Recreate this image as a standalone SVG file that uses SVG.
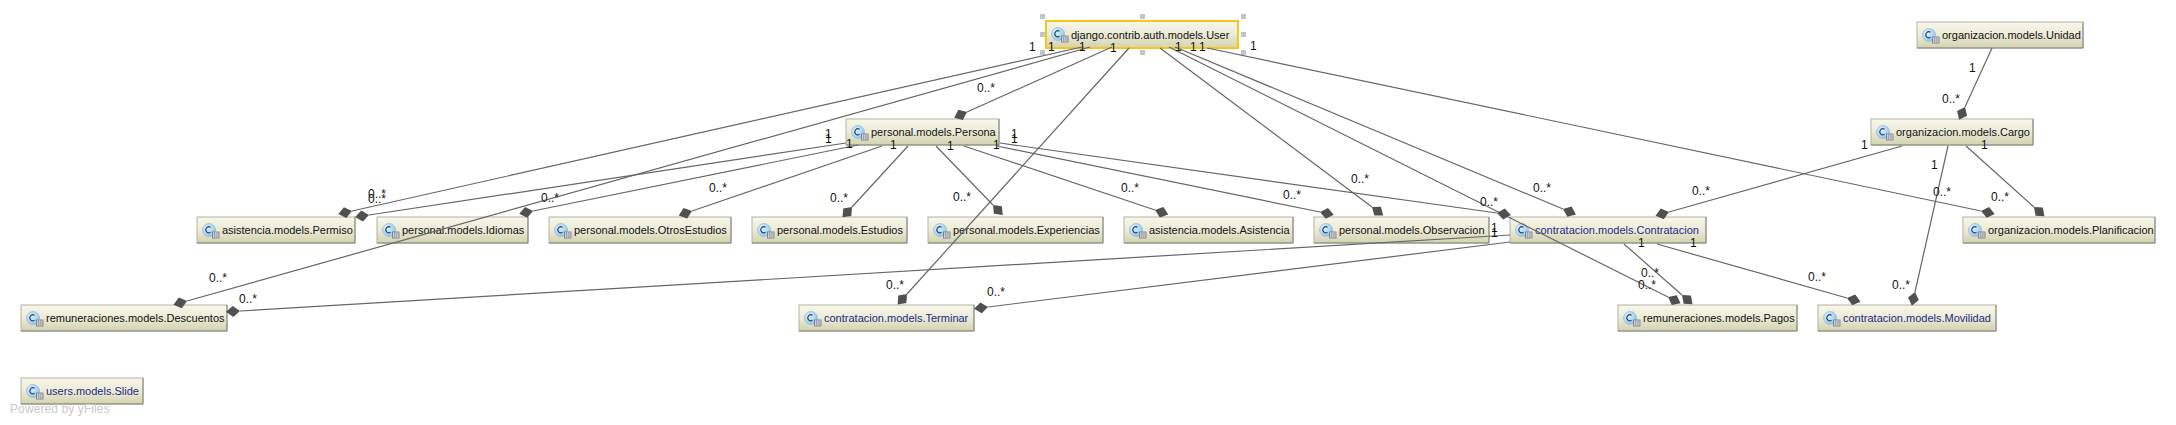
<svg xmlns="http://www.w3.org/2000/svg" width="2176" height="425" viewBox="0 0 2176 425">
<style>
text{font-family:"Liberation Sans",Arial,sans-serif;font-size:12px;fill:#111}
.n{fill:url(#g);stroke:#b4b4a6;stroke-width:1}
.e{stroke:#85857a;stroke-width:1;fill:none}
.t{font-size:11px}
.b{fill:#1c2c86}
#conn line{stroke:#666;stroke-width:1.2;marker-end:url(#d)}
.h{fill:#c4c4c4}
.y{fill:#c9c9c9;font-size:12px;letter-spacing:.1px}
</style>
<defs>
<linearGradient id="g" x1="0" y1="0" x2="0" y2="1"><stop offset="0" stop-color="#f8f7ea"/><stop offset=".5" stop-color="#ecebd6"/><stop offset="1" stop-color="#d3d2b0"/></linearGradient>
<radialGradient id="ic" cx=".35" cy=".35" r=".8"><stop offset="0" stop-color="#e6f3fb"/><stop offset="1" stop-color="#7fbfe6"/></radialGradient>
<marker id="d" markerUnits="userSpaceOnUse" markerWidth="16" markerHeight="14" refX="0" refY="6" orient="auto"><path d="M0 6 7 .5 14 6 7 11.500Z" fill="#505050"/></marker>
<g id="i">
<circle cx="12" cy="13" r="6.5" fill="url(#ic)" stroke="#8dbbd9" stroke-width=".7"/>
<path d="M13.5 10.3a3 3 0 1 0 0 5" fill="none" stroke="#1d3f78" stroke-width="1.1"/>
<rect x="15.500" y="15" width="6.5" height="6" fill="#eef2f4" stroke="#667" stroke-width=".7"/>
<path d="M15.500 17h6.5M15.500 19h6.5M17.700 15v6M19.900 15v6" stroke="#667" stroke-width=".5"/>
</g>
</defs>
<rect width="2176" height="425" fill="#fff"/>
<g id="User">
<rect x="1046" y="21" width="192" height="27" fill="url(#g)" stroke="#f5c71a" stroke-width="2"/>
<use href="#i" x="1046" y="21"/>
<text class="t" x="1071" y="38.500">django.contrib.auth.models.User</text>
<g class="h"><rect x="1040" y="14" width="5" height="5"/><rect x="1140" y="14" width="5" height="5"/><rect x="1241" y="14" width="5" height="5"/><rect x="1040" y="32" width="5" height="5"/><rect x="1241" y="32" width="5" height="5"/><rect x="1040" y="50" width="5" height="5"/><rect x="1140" y="50" width="5" height="5"/><rect x="1241" y="50" width="5" height="5"/></g>
</g>
<g id="Persona" transform="translate(846 119)"><rect class="n" width="153" height="26"/><path class="e" d="M153 0v26H0"/><use href="#i"/><text class="t" x="25" y="17">personal.models.Persona</text></g>
<g id="Unidad" transform="translate(1917 22)"><rect class="n" width="166" height="26"/><path class="e" d="M166 0v26H0"/><use href="#i"/><text class="t" x="25" y="17">organizacion.models.Unidad</text></g>
<g id="Cargo" transform="translate(1871 119)"><rect class="n" width="162" height="26"/><path class="e" d="M162 0v26H0"/><use href="#i"/><text class="t" x="25" y="17">organizacion.models.Cargo</text></g>
<g id="Permiso" transform="translate(197 217)"><rect class="n" width="158" height="26"/><path class="e" d="M158 0v26H0"/><use href="#i"/><text class="t" x="25" y="17">asistencia.models.Permiso</text></g>
<g id="Idiomas" transform="translate(377 217)"><rect class="n" width="151" height="26"/><path class="e" d="M151 0v26H0"/><use href="#i"/><text class="t" x="25" y="17">personal.models.Idiomas</text></g>
<g id="OtrosEstudios" transform="translate(549 217)"><rect class="n" width="182" height="26"/><path class="e" d="M182 0v26H0"/><use href="#i"/><text class="t" x="25" y="17">personal.models.OtrosEstudios</text></g>
<g id="Estudios" transform="translate(752 217)"><rect class="n" width="155" height="26"/><path class="e" d="M155 0v26H0"/><use href="#i"/><text class="t" x="25" y="17">personal.models.Estudios</text></g>
<g id="Experiencias" transform="translate(928 217)"><rect class="n" width="175" height="26"/><path class="e" d="M175 0v26H0"/><use href="#i"/><text class="t" x="25" y="17">personal.models.Experiencias</text></g>
<g id="Asistencia" transform="translate(1124 217)"><rect class="n" width="169" height="26"/><path class="e" d="M169 0v26H0"/><use href="#i"/><text class="t" x="25" y="17">asistencia.models.Asistencia</text></g>
<g id="Observacion" transform="translate(1314 217)"><rect class="n" width="175" height="26"/><path class="e" d="M175 0v26H0"/><use href="#i"/><text class="t" x="25" y="17">personal.models.Observacion</text></g>
<g id="Contratacion" transform="translate(1510 217)"><rect class="n" width="196" height="26"/><path class="e" d="M196 0v26H0"/><use href="#i"/><text class="t b" x="25" y="17">contratacion.models.Contratacion</text></g>
<g id="Planificacion" transform="translate(1963 217)"><rect class="n" width="192" height="26"/><path class="e" d="M192 0v26H0"/><use href="#i"/><text class="t" x="25" y="17">organizacion.models.Planificacion</text></g>
<g id="Descuentos" transform="translate(21 305)"><rect class="n" width="206" height="26"/><path class="e" d="M206 0v26H0"/><use href="#i"/><text class="t" x="25" y="17">remuneraciones.models.Descuentos</text></g>
<g id="Terminar" transform="translate(799 305)"><rect class="n" width="175" height="26"/><path class="e" d="M175 0v26H0"/><use href="#i"/><text class="t b" x="25" y="17">contratacion.models.Terminar</text></g>
<g id="Pagos" transform="translate(1618 305)"><rect class="n" width="179" height="26"/><path class="e" d="M179 0v26H0"/><use href="#i"/><text class="t" x="25" y="17">remuneraciones.models.Pagos</text></g>
<g id="Movilidad" transform="translate(1818 305)"><rect class="n" width="178" height="26"/><path class="e" d="M178 0v26H0"/><use href="#i"/><text class="t b" x="25" y="17">contratacion.models.Movilidad</text></g>
<g id="Slide" transform="translate(21 378)"><rect class="n" width="122" height="26"/><path class="e" d="M122 0v26H0"/><use href="#i"/><text class="t b" x="25" y="17">users.models.Slide</text></g>
<g id="conn">
<line x1="1082" y1="47" x2="352" y2="211"/>
<line x1="1090" y1="47" x2="187" y2="301"/>
<line x1="1112" y1="47" x2="967" y2="112"/>
<line x1="1129" y1="48" x2="907" y2="294"/>
<line x1="1160" y1="48" x2="1372" y2="207"/>
<line x1="1175" y1="47" x2="1563" y2="209"/>
<line x1="1169" y1="47" x2="1668" y2="297"/>
<line x1="1207" y1="48" x2="1981" y2="211"/>
<line x1="846" y1="143" x2="369" y2="215"/>
<line x1="858" y1="145" x2="533" y2="211"/>
<line x1="882" y1="146" x2="692" y2="211"/>
<line x1="908" y1="146" x2="852" y2="207"/>
<line x1="936" y1="146" x2="993" y2="205"/>
<line x1="964" y1="146" x2="1155" y2="210"/>
<line x1="997" y1="146" x2="1320" y2="212"/>
<line x1="1000" y1="143" x2="1497" y2="213"/>
<line x1="1510" y1="235" x2="240" y2="311"/>
<line x1="1510" y1="242" x2="988" y2="307"/>
<line x1="1624" y1="244" x2="1682" y2="295"/>
<line x1="1657" y1="244" x2="1847" y2="298"/>
<line x1="1992" y1="48" x2="1965" y2="107"/>
<line x1="1902" y1="146" x2="1669" y2="212"/>
<line x1="1948" y1="146" x2="1915" y2="292"/>
<line x1="1966" y1="146" x2="2034" y2="207"/>
</g>
<g id="labels">
<text x="1029" y="51">1</text><text x="1048" y="51">1</text><text x="1079" y="51">1</text><text x="1110" y="52">1</text><text x="1175" y="51">1</text><text x="1190" y="51">1</text><text x="1199" y="51">1</text><text x="1250" y="50">1</text>
<text x="825" y="138">1</text><text x="825" y="143">1</text><text x="1011" y="138">1</text><text x="1011" y="143">1</text>
<text x="846" y="148">1</text><text x="890" y="149">1</text><text x="947" y="150">1</text><text x="993" y="149">1</text>
<text x="1491" y="232">1</text><text x="1491" y="237">1</text><text x="1638" y="247">1</text><text x="1690" y="247">1</text>
<text x="1861" y="149">1</text><text x="1981" y="149">1</text><text x="1931" y="169">1</text><text x="1969" y="72">1</text>
<text x="368" y="198">0..*</text><text x="368" y="203">0..*</text><text x="541" y="202">0..*</text><text x="209" y="282">0..*</text><text x="239" y="303">0..*</text>
<text x="709" y="192">0..*</text><text x="830" y="202">0..*</text><text x="886" y="289">0..*</text><text x="987" y="296">0..*</text><text x="977" y="92">0..*</text>
<text x="953" y="201">0..*</text><text x="1121" y="192">0..*</text><text x="1283" y="199">0..*</text><text x="1351" y="183">0..*</text><text x="1480" y="206">0..*</text>
<text x="1641" y="277">0..*</text><text x="1638" y="289">0..*</text><text x="1533" y="192">0..*</text><text x="1692" y="195">0..*</text>
<text x="1991" y="201">0..*</text><text x="1892" y="289">0..*</text><text x="1808" y="281">0..*</text><text x="1933" y="196">0..*</text><text x="1942" y="103">0..*</text>
</g>
<text class="y" x="10" y="413">Powered by yFiles</text>
</svg>
